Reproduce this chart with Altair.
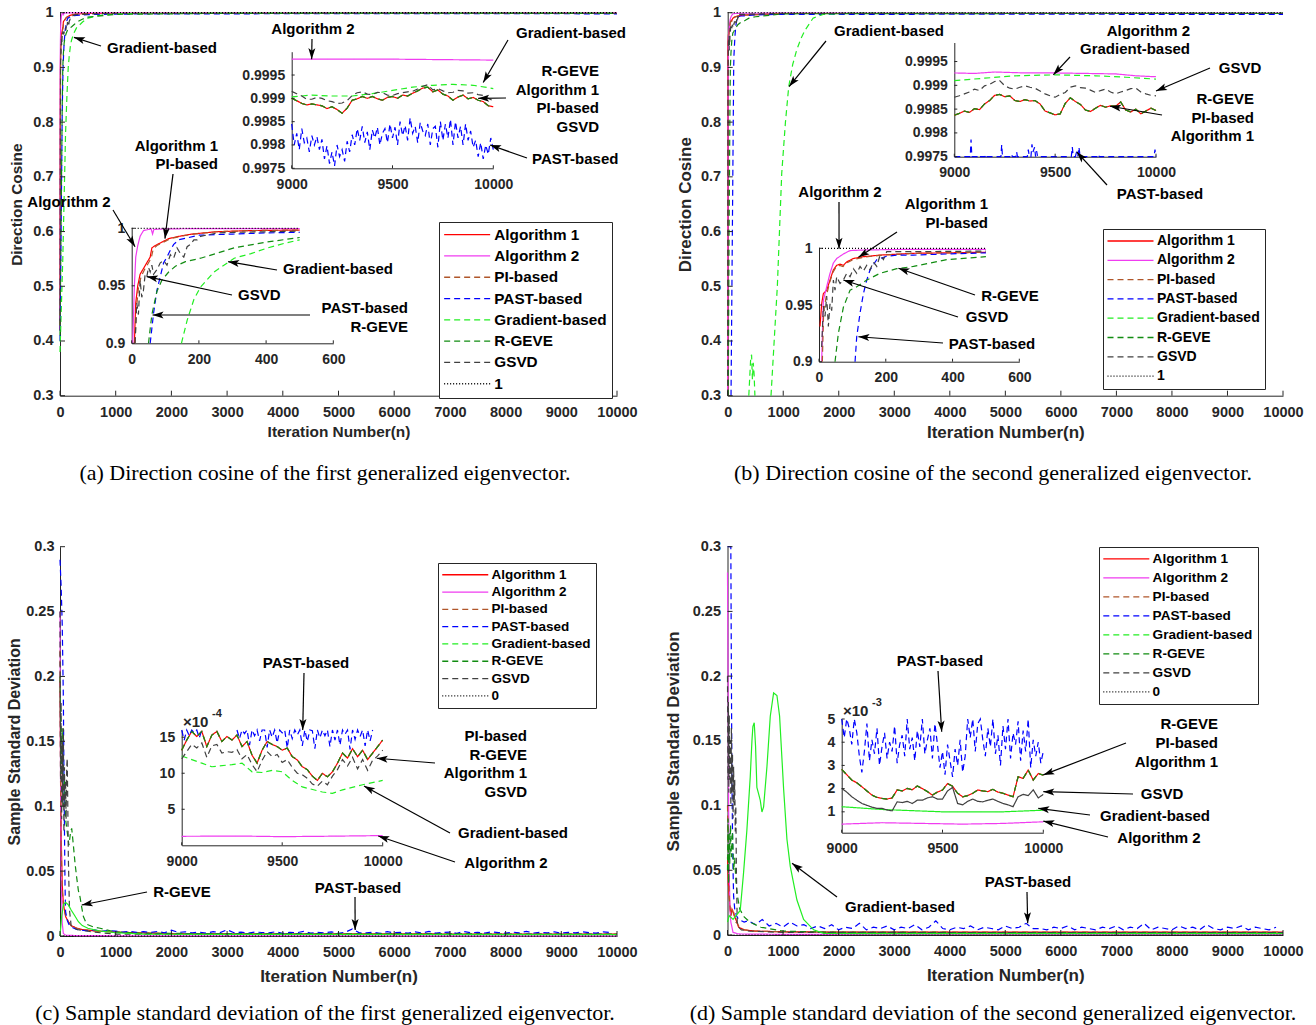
import math
import pandas as pd
import altair as alt

W, H = 1316, 1025
SANS = "Liberation Sans"
SERIF = "Liberation Serif"
AXC = "#262626"

SERIES = ["Algorithm 1", "Algorithm 2", "PI-based", "PAST-based", "Gradient-based", "R-GEVE", "GSVD"]
COLORS = ["#FF0000", "#F03CF0", "#B0562A", "#0000FF", "#22EE22", "#118C11", "#404040"]
DASHES = [[1, 0], [1, 0], [6, 4], [6, 4], [6, 4], [6, 4], [6, 4]]
REF_COLOR = "#000000"
REF_DASH = [1, 2]

# ---------------- panel (a): direction cosine, 1st eigenvector ----------------
A_PRE = {
    "Algorithm 1": ([0, 4], [0.42, 0.75]),
    "Algorithm 2": ([0, 2], [0.45, 0.80]),
    "PI-based": ([0, 5], [0.42, 0.72]),
    "PAST-based": ([0, 20, 40], [0.40, 0.60, 0.82]),
    "Gradient-based": ([0, 50, 100, 125], [0.38, 0.55, 0.78, 0.85]),
    "R-GEVE": ([0, 20, 40], [0.41, 0.62, 0.83]),
    "GSVD": ([0, 5], [0.43, 0.78]),
}
A_EARLY = {
    "Algorithm 1": ([8, 12, 18, 25, 35, 45, 55, 60, 70, 90, 110, 140, 180, 250, 350, 500],
                    [0.9, 0.935, 0.95, 0.96, 0.965, 0.97, 0.975, 0.983, 0.985, 0.988, 0.991, 0.993, 0.995, 0.997, 0.998, 0.9985]),
    "Algorithm 2": ([3, 8, 12, 18, 25, 35, 50, 58, 62, 66, 100, 200, 500],
                    [0.9, 0.95, 0.975, 0.985, 0.993, 0.998, 0.999, 0.9995, 0.995, 0.999, 0.9995, 0.9997, 0.9998]),
    "PI-based": ([10, 14, 20, 28, 38, 48, 58, 64, 75, 95, 115, 145, 185, 255, 355, 500],
                 [0.9, 0.93, 0.948, 0.958, 0.964, 0.969, 0.974, 0.982, 0.985, 0.988, 0.991, 0.993, 0.995, 0.997, 0.998, 0.9985]),
    "PAST-based": ([55, 65, 75, 85, 95, 105, 115, 125, 140, 200, 300, 400, 500],
                   [0.9, 0.926, 0.946, 0.958, 0.97, 0.975, 0.981, 0.986, 0.99, 0.994, 0.995, 0.996, 0.9965]),
    "Gradient-based": ([148, 165, 185, 205, 245, 285, 305, 355, 405, 455, 500],
                       [0.9, 0.92, 0.938, 0.949, 0.962, 0.97, 0.974, 0.978, 0.983, 0.987, 0.99]),
    "R-GEVE": ([50, 60, 75, 90, 110, 130, 160, 205, 250, 305, 400, 500],
               [0.9, 0.925, 0.945, 0.955, 0.962, 0.967, 0.971, 0.974, 0.978, 0.983, 0.988, 0.992]),
    "GSVD": ([10, 15, 20, 25, 30, 35, 40, 45, 50, 55, 60, 65,
              75, 85, 95, 105, 115, 125, 135, 145, 155, 165, 175, 185, 195, 205,
              255, 305, 405, 500],
             [0.9, 0.935, 0.925, 0.955, 0.94, 0.946, 0.96, 0.958, 0.966, 0.962, 0.968, 0.96,
              0.964, 0.97, 0.972, 0.968, 0.977, 0.974, 0.983, 0.978, 0.975, 0.984, 0.986, 0.99, 0.99, 0.993,
              0.996, 0.9965, 0.997, 0.9975]),
}
A_TAIL = {
    "Algorithm 1": ([1000, 3000, 6000, 10000], [0.9989, 0.9989, 0.999, 0.9989]),
    "Algorithm 2": ([1000, 10000], [0.9998, 0.9998]),
    "PI-based": ([1000, 3000, 6000, 10000], [0.9989, 0.9989, 0.999, 0.9989]),
    "PAST-based": ([1000, 3000, 6000, 10000], [0.9975, 0.998, 0.9982, 0.998]),
    "Gradient-based": ([700, 1000, 1500, 3000, 10000], [0.995, 0.998, 0.999, 0.9991, 0.9992]),
    "R-GEVE": ([1000, 3000, 6000, 10000], [0.997, 0.9989, 0.999, 0.9989]),
    "GSVD": ([1000, 3000, 6000, 10000], [0.999, 0.999, 0.9991, 0.999]),
}
LATE_X = list(range(9000, 10001, 25))
PAST_X = [9000 + 12.5 * i for i in range(81)]
A_LATE_MAIN = [0.9990, 0.99895, 0.99889, 0.99886, 0.99888, 0.99886, 0.99884, 0.99878, 0.99882, 0.99876,
               0.99868, 0.99879, 0.99896, 0.99899, 0.99904, 0.999, 0.99904, 0.99899, 0.99896, 0.99902,
               0.99904, 0.999, 0.99907, 0.99905, 0.99911, 0.99916, 0.99922, 0.99924, 0.99914, 0.99918,
               0.99909, 0.99905, 0.99896, 0.99903, 0.99907, 0.99899, 0.99902, 0.99896, 0.99893, 0.99884,
               0.99882]
A_LATE_GSVD = [0.99915, 0.9991, 0.99905, 0.99898, 0.99898, 0.99902, 0.999, 0.99895, 0.99893, 0.99889,
               0.9989, 0.99895, 0.99906, 0.99912, 0.99914, 0.99909, 0.99908, 0.99913, 0.99912, 0.99907,
               0.99906, 0.9991, 0.99912, 0.99914, 0.99915, 0.9992, 0.99926, 0.99929, 0.99918, 0.99921,
               0.99916, 0.99912, 0.99913, 0.99917, 0.99916, 0.99911, 0.99912, 0.99908, 0.99906, 0.999,
               0.99895]
A_LATE_PAST = [0.99845, 0.9980, 0.99825, 0.99790, 0.99835, 0.99805, 0.99815, 0.99785, 0.9982,
               0.99800, 0.99818, 0.99790, 0.99812,
               0.99770, 0.99798, 0.99760, 0.99785, 0.99755, 0.99800, 0.99775, 0.99790, 0.99765, 0.99808,
               0.99785, 0.99822, 0.99800, 0.99835, 0.99810, 0.99840, 0.99805, 0.99828, 0.99790, 0.99832,
               0.99815, 0.99838, 0.99800, 0.99825,
               0.99835, 0.99805, 0.99845, 0.99815, 0.99838, 0.99800, 0.99850, 0.99820, 0.99842, 0.99810,
               0.99858, 0.99825, 0.99840, 0.99805, 0.99848, 0.99830, 0.99820, 0.99845, 0.99800, 0.99835,
               0.99840, 0.99795, 0.99850, 0.99810, 0.99845, 0.99815, 0.99855, 0.99800,
               0.99850, 0.99815, 0.99840, 0.99800, 0.99845, 0.99810, 0.99830, 0.99795,
               0.99810, 0.99775, 0.99805, 0.99770, 0.99800, 0.99780, 0.99815, 0.99790]
A_LATE_GRAD = ([9000, 9100, 9200, 9300, 9400, 9500, 9600, 9700, 9800, 9900, 10000],
               [0.99903, 0.99907, 0.99905, 0.99905, 0.9991, 0.99917, 0.99924, 0.99928, 0.9993, 0.99928, 0.99921])
A_LATE_ALG2 = ([9000, 9500, 10000], [0.99984, 0.99984, 0.99982])

# ---------------- panel (b): direction cosine, 2nd eigenvector ----------------
B_PRE = {
    "Algorithm 1": ([0], [0.3]),
    "Algorithm 2": ([0, 5], [0.3, 0.8]),
    "PI-based": ([0, 8], [0.3, 0.85]),
    "PAST-based": ([60, 80, 100], [0.3, 0.55, 0.8]),
    "R-GEVE": ([10, 25, 40], [0.3, 0.6, 0.82]),
    "GSVD": ([0, 5], [0.3, 0.85]),
}
B_EARLY = {
    "Algorithm 1": ([3, 8, 13, 23, 33, 43, 53, 63, 73, 83, 103, 133, 183, 283, 383, 500],
                    [0.931, 0.951, 0.96, 0.963, 0.972, 0.981, 0.985, 0.986, 0.985, 0.988, 0.991, 0.9926, 0.994, 0.9956, 0.996, 0.9965]),
    "Algorithm 2": ([8, 13, 23, 33, 43, 53, 63, 73, 93, 133, 250, 500],
                    [0.9, 0.954, 0.966, 0.978, 0.987, 0.991, 0.993, 0.995, 0.998, 0.9985, 0.999, 0.999]),
    "PI-based": ([10, 14, 22, 32, 42, 52, 62, 72, 82, 102, 132, 182, 282, 382, 500],
                 [0.9, 0.945, 0.958, 0.97, 0.979, 0.984, 0.985, 0.984, 0.987, 0.99, 0.992, 0.9938, 0.9955, 0.996, 0.9965]),
    "PAST-based": ([108, 113, 123, 133, 143, 153, 173, 203, 233, 283, 383, 500],
                   [0.9, 0.922, 0.943, 0.96, 0.972, 0.981, 0.99, 0.993, 0.994, 0.994, 0.995, 0.996]),
    "R-GEVE": ([48, 58, 73, 93, 113, 143, 183, 233, 283, 333, 383, 500],
               [0.9, 0.925, 0.948, 0.963, 0.966, 0.972, 0.978, 0.982, 0.984, 0.987, 0.99, 0.9926]),
    "GSVD": ([8, 13, 18, 23, 28, 33, 38, 43, 48, 53,
              63, 73, 83, 93, 103, 113, 123, 133, 143, 153, 163, 173, 183, 193, 203,
              283, 383, 500],
             [0.913, 0.949, 0.94, 0.958, 0.931, 0.951, 0.945, 0.972, 0.963, 0.975,
              0.969, 0.972, 0.978, 0.975, 0.982, 0.978, 0.984, 0.98, 0.985, 0.981, 0.988, 0.984, 0.994, 0.99, 0.997,
              0.997, 0.9973, 0.9975]),
}
B_TAIL = {
    "Algorithm 1": ([1000, 5000, 10000], [0.9985, 0.9985, 0.9985]),
    "Algorithm 2": ([1000, 10000], [0.9992, 0.9992]),
    "PI-based": ([1000, 5000, 10000], [0.9985, 0.9985, 0.9985]),
    "PAST-based": ([1000, 5000, 10000], [0.997, 0.9972, 0.997]),
    "R-GEVE": ([1000, 5000, 10000], [0.998, 0.9985, 0.9985]),
    "GSVD": ([1000, 5000, 10000], [0.9988, 0.9988, 0.9988]),
}
B_GRAD_SEG1 = ([380, 400, 415, 430, 445, 460, 475, 490], [0.3, 0.34, 0.37, 0.375, 0.33, 0.36, 0.34, 0.3])
B_GRAD_SEG2 = ([780, 894, 973, 1040, 1099, 1170, 1243, 1320, 1393, 1537, 1717, 2200, 10000],
               [0.3, 0.5, 0.7065, 0.8, 0.865, 0.905, 0.932, 0.953, 0.968, 0.99, 0.997, 0.9991, 0.9991])
B_LATE_MAIN = [0.99837, 0.99841, 0.99846, 0.99843, 0.99851, 0.99849, 0.99861, 0.99868, 0.99879, 0.99881,
               0.99876, 0.99878, 0.99868, 0.99866, 0.99870, 0.99867, 0.99868, 0.99861, 0.99846, 0.99842,
               0.99838, 0.99840, 0.99862, 0.99874, 0.99866, 0.99860, 0.99848, 0.99845, 0.99852, 0.99858,
               0.99854, 0.99857, 0.99856, 0.99865, 0.99848, 0.99844, 0.99850, 0.99840, 0.99846, 0.99852,
               0.99847]
B_LATE_GSVD = [0.99875, 0.99878, 0.99882, 0.99886, 0.99892, 0.99889, 0.99899, 0.99902, 0.99908, 0.9991,
               0.99899, 0.99894, 0.99892, 0.99896, 0.99899, 0.99896, 0.99894, 0.99888, 0.99882, 0.99878,
               0.99875, 0.99881, 0.99885, 0.99896, 0.99899, 0.99895, 0.99894, 0.9989, 0.99885, 0.99889,
               0.99892, 0.99886, 0.99882, 0.99886, 0.99889, 0.99893, 0.99894, 0.99886, 0.99882, 0.99879,
               0.99878]
B_LATE_GRAD = ([9000, 9150, 9300, 9500, 9700, 9850, 10000],
               [0.9991, 0.99915, 0.9992, 0.99922, 0.9992, 0.99917, 0.99913])
B_LATE_ALG2 = ([9000, 9100, 9200, 9350, 9500, 9650, 9800, 9900, 10000],
               [0.99926, 0.99925, 0.99928, 0.99926, 0.99926, 0.99925, 0.99924, 0.9992, 0.99918])
B_LATE_PAST = ([9000,
                9079, 9083, 9087, 9115, 9119, 9123, 9153, 9157, 9161,
                9231, 9235, 9239, 9280, 9284, 9288, 9305, 9309, 9313,
                9362, 9367, 9372, 9380, 9385, 9390, 9398, 9403, 9408, 9413,
                9580, 9585, 9590, 9600, 9605, 9612, 9618, 9624,
                9709, 9714, 9719, 9841, 9846, 9851, 9990, 9995, 10000],
               [0.9975,
                0.9975, 0.99786, 0.9975, 0.9975, 0.99753, 0.9975, 0.9975, 0.99755, 0.9975,
                0.9975, 0.99775, 0.9975, 0.9975, 0.99755, 0.9975, 0.9975, 0.9976, 0.9975,
                0.9975, 0.99765, 0.9975, 0.9975, 0.99776, 0.9976, 0.9977, 0.9975, 0.99762, 0.9975,
                0.9975, 0.9977, 0.9975, 0.9975, 0.99758, 0.9975, 0.9977, 0.9975,
                0.9975, 0.99755, 0.9975, 0.9975, 0.99752, 0.9975, 0.9975, 0.99765, 0.9975])

# ---------------- panel (c): sample std, 1st eigenvector ----------------
C_MAIN = {
    "Algorithm 1": ([0, 20, 40, 60, 80, 100, 150, 200, 300, 400, 600, 1000, 2000, 10000],
                    [0.2, 0.08, 0.04, 0.025, 0.02, 0.015, 0.011, 0.008, 0.006, 0.005, 0.004, 0.003, 0.0018, 0.0014]),
    "Algorithm 2": ([0, 10, 20, 40, 60, 100, 300, 1000, 10000],
                    [0.25, 0.12, 0.05, 0.01, 0.002, 0.0006, 0.0003, 0.0002, 0.00015]),
    "PI-based": ([0, 10, 20, 40, 60, 80, 100, 150, 200, 300, 400, 600, 1000, 2000, 10000],
                 [0.22, 0.12, 0.07, 0.035, 0.025, 0.02, 0.016, 0.011, 0.008, 0.006, 0.005, 0.004, 0.003, 0.0018, 0.0014]),
    "Gradient-based": ([0, 30, 60, 100, 150, 200, 260, 330, 400, 500, 700, 1000, 1500, 3000, 10000],
                       [0.0, 0.015, 0.024, 0.026, 0.024, 0.02, 0.016, 0.011, 0.008, 0.006, 0.004, 0.0025, 0.0015, 0.0012, 0.001]),
    "R-GEVE": ([0, 20, 40, 60, 80, 100, 130, 160, 190, 210, 240, 270, 300, 330, 360, 390, 420, 480, 600, 720, 1000, 1500, 10000],
               [0.2, 0.12, 0.16, 0.1, 0.12, 0.09, 0.08, 0.07, 0.08, 0.083, 0.07, 0.056, 0.045, 0.035, 0.03, 0.022, 0.015, 0.009, 0.007, 0.006, 0.003, 0.002, 0.0014]),
    "GSVD": ([0, 10, 20, 30, 40, 50, 60, 70, 80, 90, 100, 110, 120, 130, 140, 150, 170, 200, 300, 600, 1000, 10000],
             [0.25, 0.12, 0.18, 0.09, 0.15, 0.1, 0.16, 0.08, 0.13, 0.1, 0.12, 0.09, 0.13, 0.137, 0.1, 0.06, 0.02, 0.008, 0.005, 0.003, 0.0015, 0.0012]),
}
C_PAST_HEAD = ([0, 20, 40, 60, 70, 80, 90, 100, 130, 160, 200, 250, 300],
               [0.29, 0.27, 0.24, 0.184, 0.13, 0.083, 0.04, 0.019, 0.012, 0.009, 0.007, 0.006, 0.005])
TAIL_X = list(range(375, 10000, 125))
C_PAST_TAIL = [0.0045, 0.004, 0.0048, 0.0035, 0.0042, 0.0038, 0.003, 0.0036, 0.0028, 0.0033,
               0.0027, 0.0035, 0.0025, 0.0045, 0.0028, 0.0032, 0.0024, 0.003, 0.0022, 0.0034,
               0.0026, 0.0048, 0.0025, 0.003, 0.0022, 0.0031, 0.0027, 0.0024, 0.0033, 0.0021,
               0.0029, 0.0025, 0.0035, 0.0022, 0.0028, 0.0024, 0.0032, 0.0021, 0.003, 0.0055,
               0.0024, 0.0024, 0.0029, 0.0021, 0.0033, 0.0025, 0.0028, 0.0022, 0.0031, 0.0024,
               0.0035, 0.0022, 0.0027, 0.003, 0.0021, 0.0034, 0.0025, 0.0029, 0.0023, 0.0032,
               0.0026, 0.0022, 0.003, 0.0024, 0.0036, 0.0023, 0.0028, 0.0025, 0.0032, 0.0022,
               0.0029, 0.0024, 0.0033, 0.0026, 0.0022, 0.0031, 0.0027]
# inset (c), values in units of 1e-4
C_LATE_MAIN = [13.2, 14.6, 15.8, 15.1, 15.8, 13.7, 15.3, 15.8, 14.4, 15.1,
               14.6, 15.3, 13.7, 14.4, 12.5, 11.4, 13.2, 14.4, 14.0, 13.7,
               13.2, 13.5, 12.3, 11.85, 10.9, 10.5, 9.6, 9.0, 9.99, 9.5,
               10.2, 11.4, 12.8, 12.1, 13.4, 12.3, 13.2, 11.9, 12.8, 13.7,
               14.6]
C_LATE_GSVD = [12.0, 13.0, 14.0, 13.5, 14.2, 12.2, 13.8, 14.0, 12.8, 13.0,
               12.9, 13.3, 12.0, 12.6, 11.2, 10.2, 11.8, 13.0, 12.3, 12.6,
               11.5, 11.9, 10.8, 10.0, 9.8, 9.3, 8.5, 8.2, 8.9, 8.4,
               9.6, 10.5, 11.9, 11.0, 12.2, 10.6, 11.9, 10.4, 11.8, 12.4,
               13.2]
C_LATE_GRAD = ([9000, 9100, 9150, 9250, 9300, 9350, 9400, 9450, 9500, 9550, 9600, 9700, 9750, 9800, 9900, 10000],
               [12.4, 11.4, 10.9, 11.2, 11.4, 10.2, 10.1, 10.4, 10.2, 9.0, 8.1, 7.4, 7.2, 7.7, 8.4, 9.0])
C_LATE_ALG2 = ([9000, 9300, 9500, 9700, 10000], [1.25, 1.28, 1.2, 1.25, 1.35])
C_LATE_PAST_SEG1 = ([9000 + 12.5 * i for i in range(9)],
                    [16, 14.6, 16, 15.2, 16, 15.6, 16, 14.9, 16])
C_LATE_PAST_SEG2 = ([9275 + 12.5 * i for i in range(55)],
                    [16, 14.8, 16, 15.5, 16, 13.9, 16, 15.2, 16, 14.5, 16, 16, 13.6, 16, 15.0, 16, 14.2, 16,
                     15.6, 16, 13.5, 16, 14.8, 16, 15.3, 16, 13.8, 16, 14.4, 16, 15.9, 13.4, 16, 14.9, 16,
                     15.2, 16, 13.7, 16, 14.6, 16, 13.9, 16, 15.4, 16, 13.3, 16, 14.7, 16, 15.1, 16, 13.8,
                     16, 14.5, 16])

# ---------------- panel (d): sample std, 2nd eigenvector ----------------
D_MAIN = {
    "Algorithm 1": ([0, 15, 30, 45, 60, 80, 100, 120, 150, 200, 300, 500, 1000, 2000, 10000],
                    [0.06, 0.04, 0.03, 0.02, 0.015, 0.02, 0.018, 0.015, 0.012, 0.006, 0.004, 0.003, 0.0025, 0.0022, 0.0023]),
    "Algorithm 2": ([0, 10, 20, 30, 45, 60, 100, 200, 1000, 10000],
                    [0.28, 0.2, 0.1, 0.05, 0.02, 0.01, 0.002, 0.0008, 0.0005, 0.0005]),
    "PI-based": ([0, 15, 30, 60, 100, 150, 180, 200, 250, 300, 500, 1000, 2000, 10000],
                 [0.1, 0.06, 0.03, 0.015, 0.02, 0.01, 0.009, 0.007, 0.005, 0.004, 0.003, 0.0025, 0.0022, 0.0023]),
    "Gradient-based": ([0, 30, 100, 229, 289, 349, 409, 440, 457, 481, 505, 529, 560, 590, 620, 650, 710, 770,
                        830, 890, 938, 1010, 1070, 1130, 1250, 1370, 1550, 1730, 2500, 10000],
                       [0.01, 0.015, 0.012, 0.019, 0.048, 0.081, 0.122, 0.15, 0.161, 0.164, 0.146, 0.114, 0.109,
                        0.104, 0.095, 0.099, 0.13, 0.169, 0.187, 0.185, 0.169, 0.113, 0.074, 0.053, 0.027, 0.012,
                        0.004, 0.0013, 0.001, 0.001]),
    "R-GEVE": ([0, 10, 20, 30, 40, 55, 70, 90, 110, 130, 150, 180, 220, 300, 400, 600, 1000, 2000, 10000],
               [0.05, 0.09, 0.04, 0.08, 0.055, 0.085, 0.06, 0.08, 0.05, 0.06, 0.042, 0.03, 0.02, 0.014, 0.01, 0.006, 0.003, 0.002, 0.0018]),
    "GSVD": ([0, 8, 16, 24, 32, 40, 50, 60, 70, 80, 90, 100, 110, 120, 130, 140, 150, 160, 175, 200, 250, 400, 1000, 10000],
             [0.2, 0.12, 0.18, 0.11, 0.17, 0.12, 0.15, 0.1, 0.16, 0.11, 0.14, 0.09, 0.13, 0.1, 0.12, 0.08, 0.1, 0.05,
              0.01, 0.006, 0.004, 0.003, 0.002, 0.0018]),
}
D_PAST_HEAD = ([0, 60, 70, 80, 90, 100, 110, 130, 160, 200, 250, 300],
               [0.3, 0.3, 0.2, 0.12, 0.08, 0.05, 0.03, 0.02, 0.015, 0.012, 0.011, 0.01])
D_PAST_TAIL = [0.011, 0.008, 0.012, 0.007, 0.009, 0.006, 0.01, 0.007, 0.008, 0.005,
               0.007, 0.005, 0.008, 0.004, 0.006, 0.005, 0.009, 0.004, 0.006, 0.005,
               0.007, 0.004, 0.006, 0.005, 0.008, 0.004, 0.006, 0.011, 0.005, 0.004,
               0.006, 0.005, 0.007, 0.004, 0.006, 0.005, 0.004, 0.007, 0.005, 0.006,
               0.009, 0.005, 0.005, 0.004, 0.006, 0.005, 0.007, 0.004, 0.006, 0.005,
               0.004, 0.006, 0.005, 0.007, 0.004, 0.006, 0.005, 0.009, 0.004, 0.006,
               0.005, 0.004, 0.007, 0.005, 0.006, 0.004, 0.008, 0.005, 0.004, 0.006,
               0.005, 0.007, 0.004, 0.006, 0.005, 0.004, 0.006]
# inset (d), values in units of 1e-3
D_LATE_MAIN = [2.83, 2.6, 2.37, 2.25, 2.08, 1.9, 1.72, 1.62, 1.58, 1.55,
               1.6, 1.94, 1.9, 2.01, 1.95, 2.11, 2.0, 1.87, 1.72, 1.85,
               1.94, 2.22, 2.1, 1.8, 1.65, 1.7, 1.8, 1.94, 1.9, 1.87,
               1.97, 1.85, 1.8, 1.72, 1.65, 2.51, 2.44, 2.8, 2.37, 2.65,
               2.58]
D_LATE_GSVD = [2.01, 1.85, 1.65, 1.5, 1.36, 1.28, 1.2, 1.15, 1.15, 1.08,
               1.04, 1.43, 1.4, 1.45, 1.36, 1.5, 1.5, 1.6, 1.65, 1.55,
               1.55, 1.9, 2.05, 1.36, 1.3, 1.45, 1.55, 1.45, 1.43, 1.5,
               1.55, 1.45, 1.36, 1.3, 1.22, 1.65, 1.75, 1.7, 1.95, 1.6,
               1.75]
D_LATE_GRAD = ([9000, 9200, 9500, 9800, 10000], [1.22, 1.1, 1.0, 1.0, 1.07])
D_LATE_ALG2 = ([9000, 9200, 9400, 9600, 9800, 10000], [0.47, 0.53, 0.5, 0.47, 0.5, 0.57])
D_LATE_PAST = [5, 4.2, 5, 4.6, 3.9, 5, 4.4, 3.4, 2.7, 3.6,
               4.8, 3.2, 4.1, 3.5, 4.6, 3.0, 3.8, 4.4, 3.3, 4.0,
               3.6, 4.7, 3.1, 3.9, 4.3, 3.4, 5, 3.7, 4.2, 3.2,
               4.5, 3.8, 5, 3.5, 4.1, 4.6, 3.3, 4.8, 3.9, 2.9,
               3.6, 2.6, 3.9, 3.2, 2.5, 3.7, 3.0, 4.1, 2.7, 3.4,
               5, 4.2, 5, 3.6, 4.8, 5, 4.1, 3.4, 4.6, 3.8,
               5, 3.5, 4.3, 3.0, 4.7, 3.7, 5, 3.3, 4.4, 3.9,
               4.9, 3.2, 4.5, 3.6, 5, 2.9, 4.1, 3.4, 4.0, 3.1,
               3.6]

# ---------------- ticks ----------------
MAIN_XTICKS = [0, 1000, 2000, 3000, 4000, 5000, 6000, 7000, 8000, 9000, 10000]
DC_YTICKS = [0.3, 0.4, 0.5, 0.6, 0.7, 0.8, 0.9, 1.0]
SD_YTICKS = [0, 0.05, 0.1, 0.15, 0.2, 0.25, 0.3]
EARLY_XTICKS = [0, 200, 400, 600]
EARLY_YTICKS = [0.9, 0.95, 1.0]
LATE_XTICKS = [9000, 9500, 10000]
LATE_DC_YTICKS = [0.9975, 0.998, 0.9985, 0.999, 0.9995]
C1_YTICKS = [5, 10, 15]
D1_YTICKS = [1, 2, 3, 4, 5]

# ---------------- layout (pixel geometry of each axes box) ----------------
GEOM = {
    "A": dict(xd=(0, 10000), yd=(0.3, 1.0), xr=(60, 617), yr=(395.7, 12.7)),
    "A1": dict(xd=(0, 600), yd=(0.9, 1.0), xr=(131.7, 333.3), yr=(343.3, 228.3)),
    "A2": dict(xd=(9000, 10000), yd=(0.9975, 1.0), xr=(291.7, 493.3), yr=(168.3, 51.7)),
    "B": dict(xd=(0, 10000), yd=(0.3, 1.0), xr=(727.7, 1283), yr=(395.7, 12.7)),
    "B1": dict(xd=(0, 600), yd=(0.9, 1.0), xr=(819, 1019.3), yr=(361.7, 248.3)),
    "B2": dict(xd=(9000, 10000), yd=(0.9975, 0.9999), xr=(954.3, 1156), yr=(156.7, 42.5)),
    "C": dict(xd=(0, 10000), yd=(0, 0.3), xr=(60, 617), yr=(936, 546.7)),
    "C1": dict(xd=(9000, 10000), yd=(0, 16), xr=(181.7, 382.7), yr=(845.3, 730)),
    "D": dict(xd=(0, 10000), yd=(0, 0.3), xr=(727.5, 1283), yr=(935, 546.7)),
    "D1": dict(xd=(9000, 10000), yd=(0.1, 5), xr=(841.7, 1043.3), yr=(832.7, 719)),
}


def to_px(key, v):
    g = GEOM[key]
    return g["xr"][0] + (v - g["xd"][0]) / (g["xd"][1] - g["xd"][0]) * (g["xr"][1] - g["xr"][0])


def to_py(key, v):
    g = GEOM[key]
    return g["yr"][0] + (v - g["yd"][0]) / (g["yd"][1] - g["yd"][0]) * (g["yr"][1] - g["yr"][0])


# annotations: (lines, align, x, y, line gap, arrow tail in px, arrow tip in data coords of an axes)
ANNOTATIONS = [
    (["Gradient-based"], "left", 107, 48, 0, (101, 46), ("A", 250, 0.955)),
    (["Algorithm 2"], "center", 313, 29, 0, (312, 39), ("A2", 9099, 0.99984)),
    (["Gradient-based"], "center", 571, 33, 0, (508, 40), ("A2", 9950, 0.99934)),
    (["R-GEVE", "Algorithm 1", "PI-based", "GSVD"], "right", 599, 71, 18.5, (506, 98), ("A2", 9925, 0.9990)),
    (["PAST-based"], "left", 532, 159, 0, (527, 158), ("A2", 9984, 0.998)),
    (["Algorithm 1", "PI-based"], "right", 218, 146, 17.5, (173, 174), ("A1", 99, 0.991)),
    (["Algorithm 2"], "center", 69, 202, 0, (113, 210), ("A1", 10, 0.984)),
    (["Gradient-based"], "left", 283, 269, 0, (277, 270), ("A1", 287, 0.971)),
    (["GSVD"], "left", 238, 295, 0, (232, 295), ("A1", 45, 0.958)),
    (["PAST-based", "R-GEVE"], "right", 408, 308, 18.5, (310, 315), ("A1", 62, 0.9246)),
    (["Gradient-based"], "center", 889, 31, 0, (826, 41), ("B", 1105, 0.865)),
    (["Algorithm 2", "Gradient-based"], "right", 1190, 31, 17.5, (1070, 57), ("B2", 9491, 0.99922)),
    (["GSVD"], "center", 1240, 68, 0, (1210, 68), ("B2", 10000, 0.99888)),
    (["R-GEVE", "PI-based", "Algorithm 1"], "right", 1254, 99, 18.5, (1162, 115), ("B2", 9772, 0.99856)),
    (["PAST-based"], "center", 1160, 194, 0, (1107, 185), ("B2", 9607, 0.9976)),
    (["Algorithm 2"], "center", 840, 192, 0, (839, 202), ("B1", 60, 0.9995)),
    (["Algorithm 1", "PI-based"], "right", 988, 204, 18.5, (897, 232), ("B1", 118, 0.992)),
    (["R-GEVE"], "center", 1010, 296, 0, (975, 295), ("B1", 238, 0.9824)),
    (["GSVD"], "center", 987, 317, 0, (958, 317), ("B1", 73, 0.972)),
    (["PAST-based"], "center", 992, 344, 0, (943, 343), ("B1", 118, 0.922)),
    (["R-GEVE"], "center", 182, 892, 0, (147, 892), ("C", 390, 0.0239)),
    (["PAST-based"], "center", 358, 888, 0, (355, 897), ("C", 5299, 0.0046)),
    (["PAST-based"], "center", 306, 663, 0, (304, 673), ("C1", 9602, 16.0)),
    (["PI-based", "R-GEVE", "Algorithm 1", "GSVD"], "right", 527, 736, 18.7, (435, 763), ("C1", 9970, 12.08)),
    (["Gradient-based"], "center", 513, 833, 0, (450, 833), ("C1", 9907, 8.24)),
    (["Algorithm 2"], "center", 506, 863, 0, (455, 862), ("C1", 9978, 1.29)),
    (["Gradient-based"], "center", 900, 907, 0, (837, 897), ("D", 1162, 0.0554)),
    (["PAST-based"], "center", 1028, 882, 0, (1027, 892), ("D", 5404, 0.009)),
    (["PAST-based"], "center", 940, 661, 0, (938, 671), ("D1", 9496, 4.45)),
    (["R-GEVE", "PI-based", "Algorithm 1"], "right", 1218, 724, 19, (1126, 743), ("D1", 10000, 2.59)),
    (["GSVD"], "center", 1162, 794, 0, (1133, 794), ("D1", 10000, 1.87)),
    (["Gradient-based"], "center", 1155, 816, 0, (1090, 815), ("D1", 9975, 1.15)),
    (["Algorithm 2"], "center", 1159, 838, 0, (1108, 837), ("D1", 10000, 0.6)),
]
EXPONENTS = [("\u00d710", 183, 722, 15), ("-4", 212, 714, 11),
             ("\u00d710", 843, 711, 15), ("-3", 872, 703, 11)]
CAPTIONS = [
    ("(a) Direction cosine of the first generalized eigenvector.", 325, 473),
    ("(b) Direction cosine of the second generalized eigenvector.", 993, 473),
    ("(c) Sample standard deviation of the first generalized eigenvector.", 325, 1013),
    ("(d) Sample standard deviation of the second generalized eigenvector.", 993, 1013),
]
ARROW_PATH = "M0,0L-3.5,11L0,8.5L3.5,11Z"
LEGEND_LINE = "M-4.6,0H4.6"


def concat_parts(*parts):
    xs, ys = [], []
    for p in parts:
        if p is None:
            continue
        xs += list(p[0])
        ys += list(p[1])
    return (xs, ys)


def frame_from(seg_map):
    rows = []
    for name, segs in seg_map.items():
        for k, (xs, ys) in enumerate(segs):
            for xv, yv in zip(xs, ys):
                rows.append({"x": float(xv), "y": float(yv), "s": name, "seg": k})
    return pd.DataFrame(rows)


def legend_cfg(x, y, size, rowpad):
    return dict(orient="none", legendX=x, legendY=y, direction="vertical", title=None,
                symbolType=LEGEND_LINE, symbolSize=100, symbolOffset=15.5, symbolStrokeWidth=1.3,
                labelFont=SANS, labelFontSize=size, labelFontWeight="bold", labelColor="#000000",
                labelOffset=19.5, rowPadding=rowpad, padding=5, strokeColor=AXC, fillColor="#FFFFFF",
                cornerRadius=0, labelLimit=300)


def axes_chart(key, seg_map, ref_name, xticks, yticks, xfmt, yfmt, xtitle=None, ytitle=None,
               title_size=15.4, legend=None, solid=(), dash_override=None, tick_len=5, label_size=14.5,
               xlabpad=9.5, ylabpad=7, xtitlepad=6, ytitlepad=6, ytitle_size=None):
    g = GEOM[key]
    sx = alt.Scale(domain=list(g["xd"]), range=list(g["xr"]), nice=False, zero=False)
    sy = alt.Scale(domain=list(g["yd"]), range=list(g["yr"]), nice=False, zero=False)
    names = list(SERIES) + [ref_name]
    cols = list(COLORS) + [REF_COLOR]
    dover = dash_override or {}
    dashes = [dover.get(n, d) for n, d in zip(SERIES, DASHES)] + [REF_DASH]
    df = frame_from(seg_map)

    common = dict(grid=False, ticks=False, domainColor=AXC, domainWidth=1,
                  labelFont=SANS, labelFontSize=label_size, labelFontWeight="bold", labelColor=AXC,
                  labelOverlap=False, labelFlush=False)
    xkw = dict(common, orient="bottom", offset=g["yr"][0] - H, values=xticks, format=xfmt, labelPadding=xlabpad)
    ykw = dict(common, orient="left", offset=-g["xr"][0], values=yticks, format=yfmt, labelPadding=ylabpad)
    tkw = dict(titleFont=SANS, titleFontWeight="bold", titleColor=AXC)
    if xtitle:
        xkw.update(tkw, title=xtitle, titlePadding=xtitlepad, titleFontSize=title_size)
    else:
        xkw["title"] = None
    if ytitle:
        ykw.update(tkw, title=ytitle, titlePadding=ytitlepad, titleFontSize=ytitle_size or title_size)
    else:
        ykw["title"] = None
    ax_x = alt.Axis(**xkw)
    ax_y = alt.Axis(**ykw)

    def X(field="x"):
        return alt.X(field + ":Q", scale=sx, axis=ax_x)

    def Y(field="y"):
        return alt.Y(field + ":Q", scale=sy, axis=ax_y)

    leg = alt.Legend(**legend) if legend else None
    cscale = alt.Scale(domain=names, range=cols)
    dscale = alt.Scale(domain=names, range=dashes)
    base_df = df[~df["s"].isin(list(solid))]
    layers = [alt.Chart(base_df).mark_line(strokeWidth=1.2).encode(
        x=X(), y=Y(),
        color=alt.Color("s:N", scale=cscale, legend=leg),
        strokeDash=alt.StrokeDash("s:N", scale=dscale, legend=leg),
        detail="seg:N",
    )]
    solid_df = df[df["s"].isin(list(solid))]
    if len(solid_df):
        layers.append(alt.Chart(solid_df).mark_line(strokeWidth=1.2).encode(
            x=X(), y=Y(),
            color=alt.Color("s:N", scale=cscale, legend=None),
            detail="seg:N",
        ))
    ydf = pd.DataFrame({"x": [g["xd"][0]] * len(yticks), "x2": [g["xd"][0]] * len(yticks), "y": yticks})
    xdf = pd.DataFrame({"x": xticks, "y": [g["yd"][0]] * len(xticks), "y2": [g["yd"][0]] * len(xticks)})
    layers.append(alt.Chart(ydf).mark_rule(color=AXC, strokeWidth=1, x2Offset=tick_len).encode(
        x=X(), x2="x2:Q", y=Y()))
    layers.append(alt.Chart(xdf).mark_rule(color=AXC, strokeWidth=1, y2Offset=-tick_len).encode(
        x=X(), y=Y(), y2="y2:Q"))
    return alt.layer(*layers)


# ---------- build series maps ----------
a_main = {n: [concat_parts(A_PRE[n], A_EARLY[n], A_TAIL[n])] for n in SERIES}
a_main["1"] = [([0, 10000], [1, 1])]
a_in1 = {n: [A_EARLY[n]] for n in SERIES}
a_in1["1"] = [([0, 500], [1, 1])]
a_in2 = {
    "Algorithm 1": [(LATE_X, A_LATE_MAIN)],
    "Algorithm 2": [A_LATE_ALG2],
    "PI-based": [(LATE_X, A_LATE_MAIN)],
    "PAST-based": [(PAST_X, A_LATE_PAST)],
    "Gradient-based": [A_LATE_GRAD],
    "R-GEVE": [(LATE_X, A_LATE_MAIN)],
    "GSVD": [(LATE_X, A_LATE_GSVD)],
}

b_main = {n: [concat_parts(B_PRE[n], B_EARLY[n], B_TAIL[n])] for n in SERIES if n != "Gradient-based"}
b_main["Gradient-based"] = [B_GRAD_SEG1, B_GRAD_SEG2]
b_main = {n: b_main[n] for n in SERIES}
b_main["1"] = [([0, 10000], [1, 1])]
b_in1 = {n: [B_EARLY[n]] for n in SERIES if n in B_EARLY}
b_in1["1"] = [([0, 500], [1, 1])]
b_in2 = {
    "Algorithm 1": [(LATE_X, B_LATE_MAIN)],
    "Algorithm 2": [B_LATE_ALG2],
    "PI-based": [(LATE_X, B_LATE_MAIN)],
    "PAST-based": [B_LATE_PAST],
    "Gradient-based": [B_LATE_GRAD],
    "R-GEVE": [(LATE_X, B_LATE_MAIN)],
    "GSVD": [(LATE_X, B_LATE_GSVD)],
}

c_main = {n: [C_MAIN[n]] for n in SERIES if n in C_MAIN}
c_main["PAST-based"] = [concat_parts(C_PAST_HEAD, (TAIL_X, C_PAST_TAIL))]
c_main = {n: c_main[n] for n in SERIES}
c_main["0"] = [([0, 10000], [0, 0])]
c_in = {
    "Algorithm 1": [(LATE_X, C_LATE_MAIN)],
    "Algorithm 2": [C_LATE_ALG2],
    "PI-based": [(LATE_X, C_LATE_MAIN)],
    "PAST-based": [C_LATE_PAST_SEG1, C_LATE_PAST_SEG2],
    "Gradient-based": [C_LATE_GRAD],
    "R-GEVE": [(LATE_X, C_LATE_MAIN)],
    "GSVD": [(LATE_X, C_LATE_GSVD)],
}

d_main = {n: [D_MAIN[n]] for n in SERIES if n in D_MAIN}
d_main["PAST-based"] = [concat_parts(D_PAST_HEAD, (TAIL_X, D_PAST_TAIL))]
d_main = {n: d_main[n] for n in SERIES}
d_main["0"] = [([0, 10000], [0, 0])]
d_in = {
    "Algorithm 1": [(LATE_X, D_LATE_MAIN)],
    "Algorithm 2": [D_LATE_ALG2],
    "PI-based": [(LATE_X, D_LATE_MAIN)],
    "PAST-based": [(PAST_X, D_LATE_PAST)],
    "Gradient-based": [D_LATE_GRAD],
    "R-GEVE": [(LATE_X, D_LATE_MAIN)],
    "GSVD": [(LATE_X, D_LATE_GSVD)],
}

SOLID = {"Gradient-based": [1, 0], "GSVD": [1, 0]}
INSET = dict(tick_len=3, label_size=14, xlabpad=9, ylabpad=7)

panels = [
    axes_chart("A", a_main, "1", MAIN_XTICKS, DC_YTICKS, "d", "~g", "Iteration Number(n)", "Direction Cosine",
               title_size=15.4, legend=legend_cfg(439, 222, 15.3, 5.3), xtitlepad=6, ytitlepad=8),
    axes_chart("A1", a_in1, "1", EARLY_XTICKS, EARLY_YTICKS, "d", "~g", **INSET),
    axes_chart("A2", a_in2, "1", LATE_XTICKS, LATE_DC_YTICKS, "d", "~g", **INSET),
    axes_chart("B", b_main, "1", MAIN_XTICKS, DC_YTICKS, "d", "~g", "Iteration Number(n)", "Direction Cosine",
               title_size=17, legend=legend_cfg(1103, 229, 14, 5.3), xtitlepad=6, ytitlepad=6),
    axes_chart("B1", b_in1, "1", EARLY_XTICKS, EARLY_YTICKS, "d", "~g", **INSET),
    axes_chart("B2", b_in2, "1", LATE_XTICKS, LATE_DC_YTICKS, "d", "~g", **INSET),
    axes_chart("C", c_main, "0", MAIN_XTICKS, SD_YTICKS, "d", "~g", "Iteration Number(n)",
               "Sample Standard Deviation", title_size=17, legend=legend_cfg(438, 563, 13.5, 2.3),
               solid=("Gradient-based",), xtitlepad=9.5, ytitlepad=3, ylabpad=6, ytitle_size=16),
    axes_chart("C1", c_in, "0", LATE_XTICKS, C1_YTICKS, "d", "~g", **INSET),
    axes_chart("D", d_main, "0", MAIN_XTICKS, SD_YTICKS, "d", "~g", "Iteration Number(n)",
               "Sample Standard Deviation", title_size=17, legend=legend_cfg(1099, 547, 13.6, 4.0),
               solid=("Gradient-based",), xtitlepad=9.5, ytitlepad=10),
    axes_chart("D1", d_in, "0", LATE_XTICKS, D1_YTICKS, "d", "~g", dash_override=SOLID, **INSET),
]

# ---------- annotation layer (pixel scales) ----------
PXS = alt.Scale(domain=[0, W], range=[0, W], nice=False, zero=False)
PYS = alt.Scale(domain=[0, H], range=[0, H], nice=False, zero=False)

text_rows, arrow_rows = [], []
for lines, align, x, y, gap, tail, tip in ANNOTATIONS:
    for i, t in enumerate(lines):
        text_rows.append({"x": x, "y": y + i * gap, "t": t, "a": align})
    if tail is not None and tip is not None:
        hx = to_px(tip[0], tip[1])
        hy = to_py(tip[0], tip[2])
        ang = math.degrees(math.atan2(hx - tail[0], -(hy - tail[1]))) % 360
        arrow_rows.append({"tx": tail[0], "ty": tail[1], "hx": hx, "hy": hy, "ang": ang})
tdf = pd.DataFrame(text_rows)
adf = pd.DataFrame(arrow_rows)

ann_layers = []
for al in ["left", "center", "right"]:
    sub = tdf[tdf["a"] == al]
    if len(sub):
        ann_layers.append(alt.Chart(sub).mark_text(align=al, baseline="middle", font=SANS, fontSize=15,
                                                   fontWeight="bold", color="#000000").encode(
            x=alt.X("x:Q", scale=PXS, axis=None), y=alt.Y("y:Q", scale=PYS, axis=None), text="t:N"))
ann_layers.append(alt.Chart(adf).mark_rule(color="#000000", strokeWidth=1.2).encode(
    x=alt.X("tx:Q", scale=PXS, axis=None), y=alt.Y("ty:Q", scale=PYS, axis=None), x2="hx:Q", y2="hy:Q"))
ann_layers.append(alt.Chart(adf).mark_point(shape=ARROW_PATH, filled=True, size=4, color="#000000",
                                            opacity=1, strokeWidth=0).encode(
    x=alt.X("hx:Q", scale=PXS, axis=None), y=alt.Y("hy:Q", scale=PYS, axis=None),
    angle=alt.Angle("ang:Q", scale=None)))
for t, x, y, fs in EXPONENTS:
    ann_layers.append(alt.Chart(pd.DataFrame({"x": [x], "y": [y], "t": [t]})).mark_text(
        align="left", baseline="middle", font=SANS, fontSize=fs, fontWeight="bold", color=AXC).encode(
        x=alt.X("x:Q", scale=PXS, axis=None), y=alt.Y("y:Q", scale=PYS, axis=None), text="t:N"))
cdf = pd.DataFrame(CAPTIONS, columns=["t", "x", "y"])
ann_layers.append(alt.Chart(cdf).mark_text(align="center", baseline="middle", font=SERIF, fontSize=22,
                                           color="#000000").encode(
    x=alt.X("x:Q", scale=PXS, axis=None), y=alt.Y("y:Q", scale=PYS, axis=None), text="t:N"))
annotations = alt.layer(*ann_layers)

chart = alt.layer(*panels, annotations).resolve_scale(
    x="independent", y="independent", color="independent", strokeDash="independent"
).properties(
    width=W, height=H, padding=0, autosize=alt.AutoSizeParams(type="none"), background="white"
).configure_view(stroke="transparent")

chart.save("out.html", embed_options={"renderer": "svg", "actions": False})
